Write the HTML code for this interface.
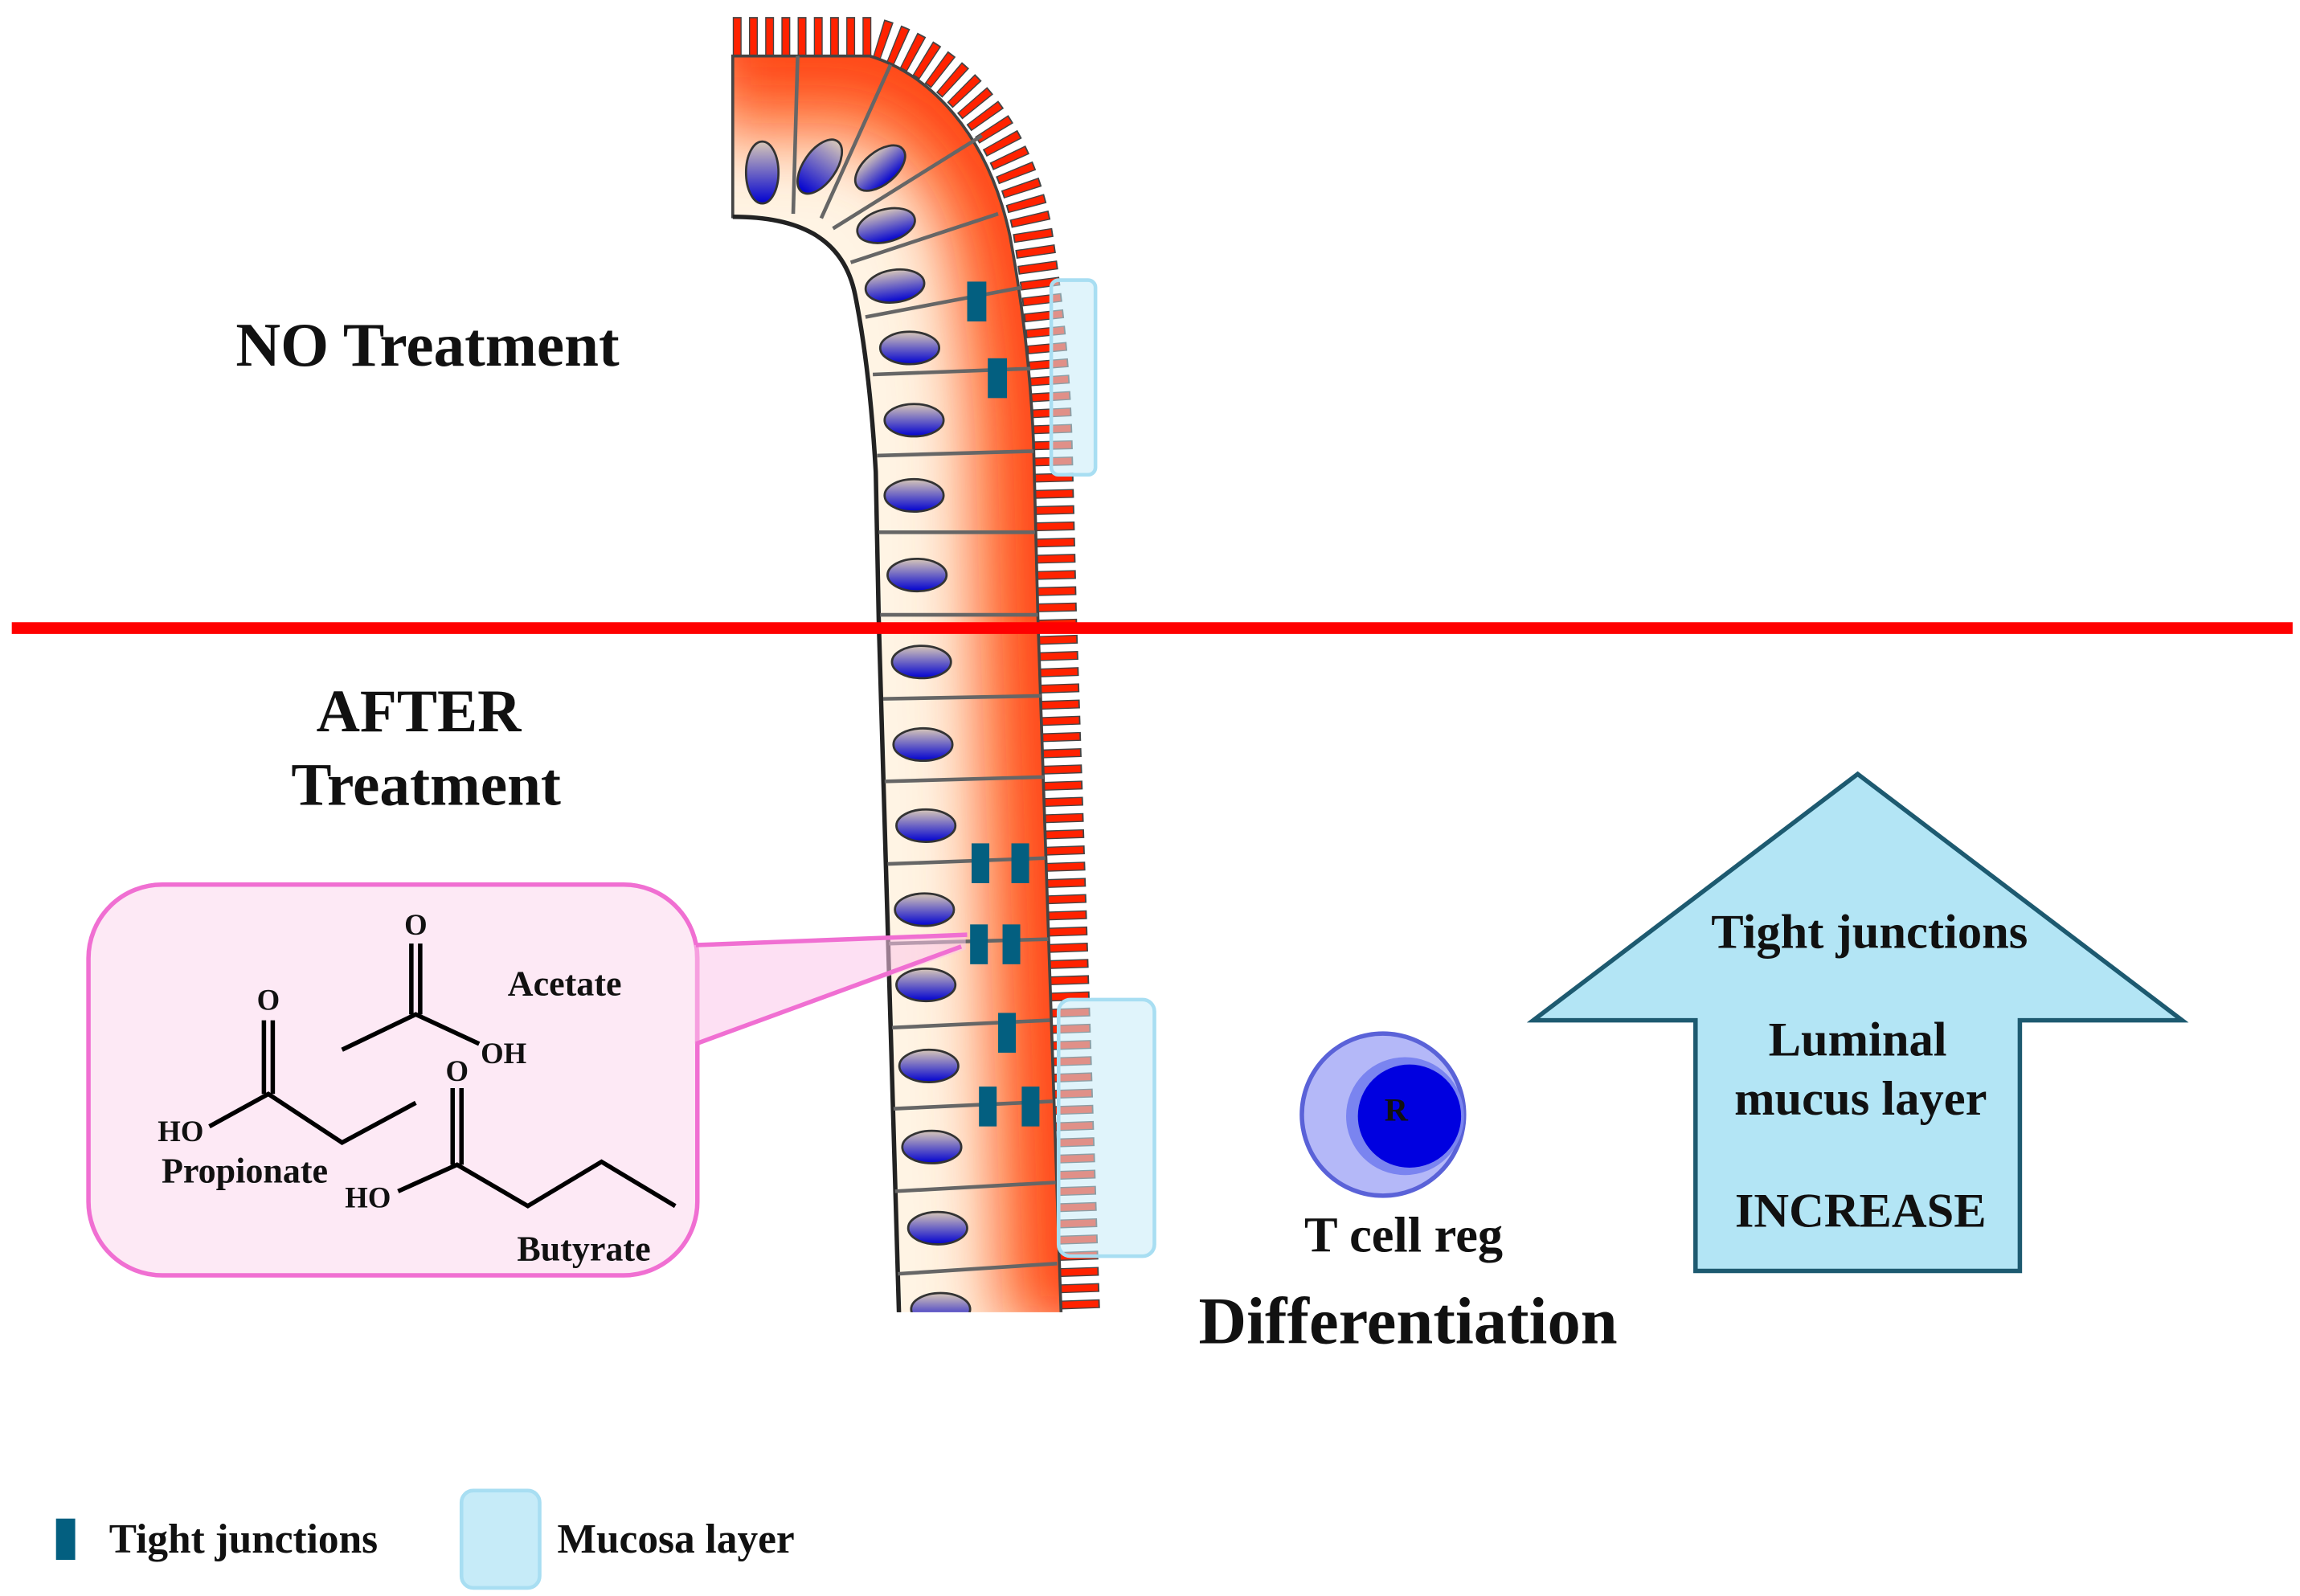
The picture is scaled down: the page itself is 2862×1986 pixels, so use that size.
<!DOCTYPE html>
<html><head><meta charset="utf-8"><style>
html,body{margin:0;padding:0;background:#fff;}
svg{display:block;}
text{font-family:"Liberation Serif",serif;font-weight:bold;fill:#111;}
</style></head><body>
<svg width="2862" height="1986" viewBox="0 0 1560 1082.5" preserveAspectRatio="none" xmlns="http://www.w3.org/2000/svg">
<defs>
<linearGradient id="nuc" x1="0" y1="0" x2="0" y2="1">
<stop offset="0" stop-color="#d8c8b8"/>
<stop offset="1" stop-color="#0000d0"/>
</linearGradient>
<clipPath id="cut"><rect x="0" y="0" width="1560" height="890"/></clipPath>
<clipPath id="tisclip"><path d="M497,38 L590,38 C630,50 670,90 685,160 Q698,230 701,300 L704,420 L720,900 L610,900 L596,420 L594,320 Q590,250 580,200 C572,160 540,147 497,147 Z"/></clipPath>
<filter id="blur" x="-50%" y="-50%" width="200%" height="200%"><feGaussianBlur stdDeviation="22"/></filter>
</defs>
<rect width="1560" height="1082.5" fill="#fff"/>

<g clip-path="url(#cut)">
<!-- villi -->
<path d="M497,25 L592,25 C640,38 685,80 700,155 Q712,230 714,300 L717,420 L733,900" fill="none" stroke="#444" stroke-width="27" stroke-dasharray="6 5"/>
<path d="M497,25 L592,25 C640,38 685,80 700,155 Q712,230 714,300 L717,420 L733,900" fill="none" stroke="#ff2200" stroke-width="25" stroke-dasharray="4.5 6.5" stroke-dashoffset="-0.75"/>
<!-- tissue -->
<path d="M497,38 L590,38 C630,50 670,90 685,160 Q698,230 701,300 L704,420 L720,900 L610,900 L596,420 L594,320 Q590,250 580,200 C572,160 540,147 497,147 Z" fill="#fff4e4"/>
<g clip-path="url(#tisclip)">
<path d="M480,30 L590,30 C640,44 690,90 705,160 Q718,230 721,300 L724,420 L740,900" fill="none" stroke="#ff7a40" stroke-width="130" filter="url(#blur)"/>
<path d="M480,34 L590,34 C636,47 680,90 695,160 Q708,230 711,300 L714,420 L730,900" fill="none" stroke="#ff2a00" stroke-width="40" filter="url(#blur)" opacity="0.9"/>
</g>
<path d="M497,38 L590,38 C630,50 670,90 685,160 Q698,230 701,300 L704,420 L720,900 L610,900 L596,420 L594,320 Q590,250 580,200 C572,160 540,147 497,147 Z" fill="none" stroke="#444" stroke-width="2"/>
<path d="M497,147 C540,147 572,160 580,200 Q590,250 594,320 L596,420 L610,900" fill="none" stroke="#222" stroke-width="3"/>
<!-- walls -->
<g stroke="#666" stroke-width="2.5" fill="none">
<line x1="538" y1="145" x2="541" y2="38"/>
<line x1="557" y1="148" x2="604" y2="44"/>
<line x1="565" y1="155" x2="666" y2="92"/>
<line x1="577" y1="178" x2="677" y2="145"/>
<line x1="587" y1="215" x2="693" y2="195"/>
<line x1="592" y1="254" x2="699" y2="250"/>
<line x1="595" y1="309" x2="701" y2="306"/>
<line x1="596" y1="361" x2="702" y2="361"/>
<line x1="597" y1="417" x2="704" y2="417"/>
<line x1="599" y1="474" x2="706" y2="472"/>
<line x1="600" y1="530" x2="708" y2="527"/>
<line x1="602" y1="586" x2="709" y2="582"/>
<line x1="603" y1="640" x2="711" y2="637"/>
<line x1="605" y1="697" x2="712" y2="692"/>
<line x1="606" y1="752" x2="714" y2="747"/>
<line x1="607" y1="808" x2="716" y2="802"/>
<line x1="609" y1="864" x2="717" y2="857"/>
</g>
<!-- nuclei -->
<g fill="url(#nuc)" stroke="#333" stroke-width="1.5">
<ellipse cx="517" cy="117" rx="11" ry="21"/>
<ellipse cx="556" cy="113" rx="11" ry="21" transform="rotate(35 556 113)"/>
<ellipse cx="597" cy="114" rx="20" ry="11" transform="rotate(-40 597 114)"/>
<ellipse cx="601" cy="153" rx="20" ry="11" transform="rotate(-15 601 153)"/>
<ellipse cx="607" cy="194" rx="20" ry="11" transform="rotate(-8 607 194)"/>
<ellipse cx="617" cy="236" rx="20" ry="11"/>
<ellipse cx="620" cy="285" rx="20" ry="11"/>
<ellipse cx="620" cy="336" rx="20" ry="11"/>
<ellipse cx="622" cy="390" rx="20" ry="11"/>
<ellipse cx="625" cy="449" rx="20" ry="11"/>
<ellipse cx="626" cy="505" rx="20" ry="11"/>
<ellipse cx="628" cy="560" rx="20" ry="11"/>
<ellipse cx="627" cy="617" rx="20" ry="11"/>
<ellipse cx="628" cy="668" rx="20" ry="11"/>
<ellipse cx="630" cy="723" rx="20" ry="11"/>
<ellipse cx="632" cy="778" rx="20" ry="11"/>
<ellipse cx="636" cy="833" rx="20" ry="11"/>
<ellipse cx="638" cy="888" rx="20" ry="11"/>
</g>
</g>

<!-- mucosa boxes -->
<rect x="713" y="190" width="30" height="132" rx="5" fill="#c6ebf8" fill-opacity="0.55" stroke="#a8def2" stroke-width="2.5"/>
<rect x="718" y="678" width="65" height="174" rx="8" fill="#c6ebf8" fill-opacity="0.55" stroke="#a8def2" stroke-width="2.5"/>

<!-- tight junctions -->
<g fill="#035f80">
<rect x="656" y="191" width="13" height="27"/>
<rect x="670" y="243" width="13" height="27"/>
<rect x="659" y="572" width="12" height="27"/>
<rect x="686" y="572" width="12" height="27"/>
<rect x="658" y="627" width="12" height="27"/>
<rect x="680" y="627" width="12" height="27"/>
<rect x="677" y="687" width="12" height="27"/>
<rect x="664" y="737" width="12" height="27"/>
<rect x="693" y="737" width="12" height="27"/>
</g>

<!-- red line -->
<line x1="8" y1="426" x2="1555" y2="426" stroke="#ff0000" stroke-width="8"/>

<!-- headings -->
<text x="290" y="248" font-size="42" text-anchor="middle">NO Treatment</text>
<text x="284" y="496" font-size="41" text-anchor="middle">AFTER</text>
<text x="289" y="546" font-size="41" text-anchor="middle">Treatment</text>

<!-- pink callout -->
<rect x="60" y="600" width="413" height="265" rx="50" fill="#fde9f5" stroke="#f06fd2" stroke-width="3"/>
<polygon points="471,641 655,634 655,644 471,708" fill="#fbc6ea" fill-opacity="0.55"/>
<line x1="472" y1="641" x2="656" y2="634" stroke="#f06fd2" stroke-width="3"/>
<line x1="472" y1="708" x2="652" y2="642" stroke="#f06fd2" stroke-width="3"/>

<!-- molecules -->
<g stroke="#000" stroke-width="3" fill="none">
<line x1="279" y1="640" x2="279" y2="688"/><line x1="285" y1="640" x2="285" y2="688"/>
<polyline points="232,712 282,688 325,708"/>
<line x1="179" y1="692" x2="179" y2="742"/><line x1="185" y1="692" x2="185" y2="742"/>
<polyline points="142,764 182,742 232,775 282,748"/>
<line x1="307" y1="738" x2="307" y2="790"/><line x1="313" y1="738" x2="313" y2="790"/>
<polyline points="270,808 310,790 358,818 408,788 458,818"/>
</g>
<text x="282" y="634" font-size="20" text-anchor="middle" font-weight="normal">O</text>
<text x="182" y="685" font-size="20" text-anchor="middle" font-weight="normal">O</text>
<text x="310" y="733" font-size="20" text-anchor="middle" font-weight="normal">O</text>
<text x="326" y="721" font-size="20" font-weight="normal">OH</text>
<text x="107" y="774" font-size="20" font-weight="normal">HO</text>
<text x="234" y="819" font-size="20" font-weight="normal">HO</text>
<text x="383" y="675" font-size="24" text-anchor="middle">Acetate</text>
<text x="166" y="802" font-size="24" text-anchor="middle">Propionate</text>
<text x="396" y="855" font-size="24" text-anchor="middle">Butyrate</text>

<!-- T cell -->
<circle cx="938" cy="756" r="55" fill="#b4b8f8" stroke="#5a62d8" stroke-width="3"/>
<circle cx="953" cy="757" r="40" fill="#7a84f0"/>
<circle cx="956" cy="757" r="35" fill="#0000e0"/>
<text x="947" y="760" font-size="22" text-anchor="middle" font-weight="normal">R</text>
<text x="952" y="849" font-size="34" text-anchor="middle">T cell reg</text>
<text x="955" y="911" font-size="45" text-anchor="middle">Differentiation</text>

<!-- arrow -->
<polygon points="1040,692 1260,525 1480,692 1370,692 1370,862 1150,862 1150,692" fill="#b3e5f5" stroke="#1d5a70" stroke-width="3"/>
<text x="1268" y="643" font-size="33" text-anchor="middle">Tight junctions</text>
<text x="1260" y="716" font-size="33" text-anchor="middle">Luminal</text>
<text x="1262" y="756" font-size="33" text-anchor="middle">mucus layer</text>
<text x="1262" y="832" font-size="33" text-anchor="middle">INCREASE</text>

<!-- legend -->
<rect x="38" y="1030" width="13" height="28" fill="#035f80"/>
<text x="74" y="1053" font-size="28">Tight junctions</text>
<rect x="313" y="1011" width="53" height="66" rx="8" fill="#c6ebf8" stroke="#a8def2" stroke-width="2.5"/>
<text x="378" y="1053" font-size="28">Mucosa layer</text>
</svg>
</body></html>
